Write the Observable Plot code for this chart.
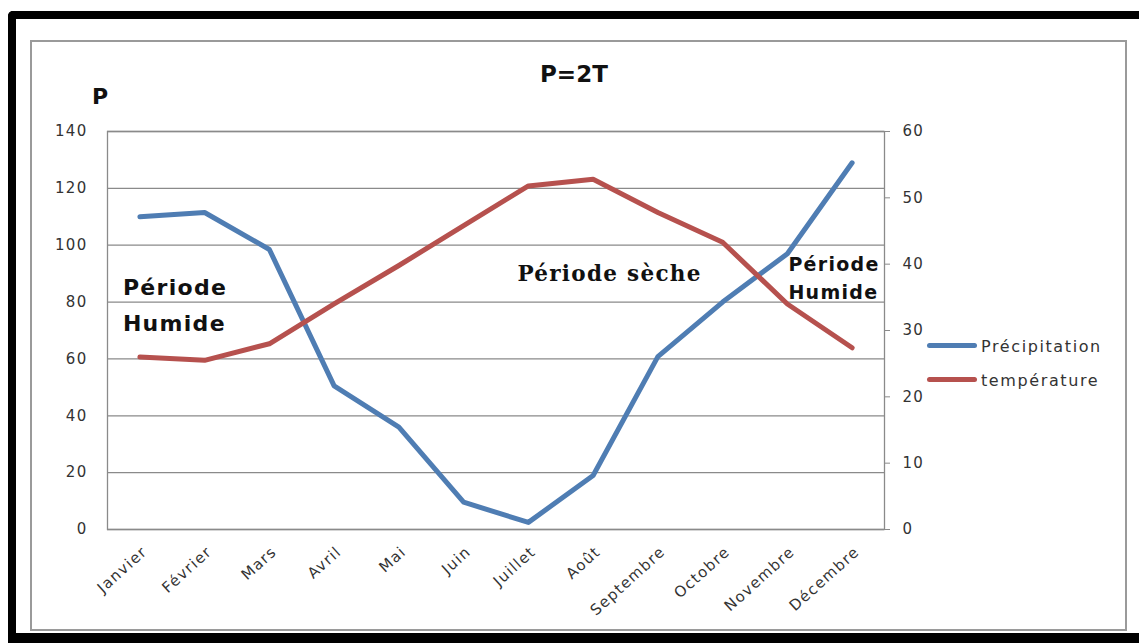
<!DOCTYPE html>
<html><head><meta charset="utf-8">
<script src="https://cdn.jsdelivr.net/npm/d3@7"></script>
<script src="https://cdn.jsdelivr.net/npm/@observablehq/plot@0.6"></script>
<style>
html,body{margin:0;padding:0;background:#fff;}
#wrap{position:relative;width:1139px;height:643px;overflow:hidden;font-family:"DejaVu Sans",sans-serif;background:#fff;}
#chart{position:absolute;left:0;top:0;}
#chart svg text{letter-spacing:1.3px;}
#chart svg g[aria-label="annotation"] text{letter-spacing:1px;}
#chart svg g[aria-label="annotation-serif"] text{letter-spacing:0px;}
.outer{position:absolute;left:8px;top:11px;width:1200px;height:632px;box-sizing:border-box;border-top:8px solid #000;border-left:8px solid #000;border-bottom:10px solid #000;border-radius:5px 0 0 0;pointer-events:none;}
.inner{position:absolute;left:30px;top:40px;width:1097px;height:591px;box-sizing:border-box;border:2px solid #9a9a9a;pointer-events:none;}
.lbl{position:absolute;font-weight:bold;color:#111;line-height:1;white-space:nowrap;}
.sw{position:absolute;height:5px;border-radius:3px;}
.legtxt{position:absolute;font-size:16px;line-height:1;letter-spacing:1.6px;color:#333;white-space:nowrap;}
</style></head><body>
<div id="wrap">
  <div id="chart"></div>
  <div class="outer"></div>
  <div class="inner"></div>
  <div class="lbl" id="title" style="left:540px;top:63px;font-size:23px;">P=2T</div>
  <div class="lbl" id="plabel" style="left:92px;top:86px;font-size:22px;">P</div>
  <div id="legend"></div>
</div>
<script>
// ---- data ----
const months = ["Janvier","Février","Mars","Avril","Mai","Juin","Juillet","Août","Septembre","Octobre","Novembre","Décembre"];
const precipitation = [110, 111.5, 98.5, 50.5, 36, 9.6, 2.5, 19, 60.8, 80, 97, 129];
const temperature = [26, 25.5, 28, 34, 39.8, 45.8, 51.8, 52.8, 47.8, 43.3, 34, 27.4];
const leftTicks = [0, 20, 40, 60, 80, 100, 120, 140];
const rightTicks = [0, 10, 20, 30, 40, 50, 60];
const seriesNames = ["Précipitation", "température"];
const seriesColors = ["#4f7db3", "#b6514e"];
const annLabels = ["Période\nHumide", "Période sèche", "Période\nHumide"];
const annMonths = ["Janvier", "Juillet", "Novembre"];
const annValues = [91.6, 92.8, 98.1];

// ---- build ----
const K = 140 / 60; // right axis (T) 0..60 maps onto left axis (P) 0..140
const rows = months.map((m, i) => ({month: m, p: precipitation[i], t: temperature[i] * K}));
const ann = annLabels.map((l, i) => ({label: l, month: annMonths[i], v: annValues[i]}));

const chart = Plot.plot({
  width: 1139, height: 643,
  marginLeft: 107, marginRight: 255, marginTop: 131, marginBottom: 114,
  style: {background: "transparent", fontFamily: "DejaVu Sans", fontSize: "15px", color: "#333", overflow: "visible"},
  x: {type: "point", domain: months, padding: 0.5, round: false},
  y: {domain: [0, 140]},
  marks: [
    Plot.gridY(leftTicks, {stroke: "#8a8a8a", strokeOpacity: 1, strokeWidth: 1.3}),
    Plot.frame({stroke: "#8a8a8a", strokeWidth: 1.3}),
    Plot.axisY(leftTicks, {anchor: "left", tickSize: 0, tickPadding: 20, label: null}),
    Plot.axisY(rightTicks.map(t => t * K), {anchor: "right", tickSize: 5, tickPadding: 13, stroke: "#8a8a8a", tickFormat: d => Math.round(d / K), label: null}),
    Plot.axisX({tickSize: 0, tickRotate: -42, tickPadding: 6, dx: 5, dy: 14, label: null}),
    Plot.line(rows, {x: "month", y: "p", stroke: seriesColors[0], strokeWidth: 5}),
    Plot.line(rows, {x: "month", y: "t", stroke: seriesColors[1], strokeWidth: 5}),
    Plot.text([ann[0]], {x: "month", y: "v", text: "label", dx: -17, textAnchor: "start", lineAnchor: "top", lineHeight: 1.64, fontSize: 22, fontWeight: "bold", fontFamily: "DejaVu Sans", fill: "#111", ariaLabel: "annotation"}),
    Plot.text([ann[1]], {x: "month", y: "v", text: "label", dx: -11, textAnchor: "start", lineAnchor: "top", fontSize: 21.5, fontWeight: "bold", fontFamily: "DejaVu Serif", fill: "#111", ariaLabel: "annotation-serif"}),
    Plot.text([ann[2]], {x: "month", y: "v", text: "label", dx: 1, textAnchor: "start", lineAnchor: "top", lineHeight: 1.5, fontSize: 19, fontWeight: "bold", fontFamily: "DejaVu Sans", fill: "#111", ariaLabel: "annotation"})
  ]
});
document.getElementById("chart").appendChild(chart);

// legend
const leg = document.getElementById("legend");
seriesNames.forEach((name, i) => {
  const sw = document.createElement("div");
  sw.className = "sw";
  sw.style.left = "927px"; sw.style.width = "50px";
  sw.style.top = (342.5 + i * 34.3) + "px";
  sw.style.background = seriesColors[i];
  leg.appendChild(sw);
  const t = document.createElement("div");
  t.className = "legtxt";
  t.style.left = "981px";
  t.style.top = (338.5 + i * 34) + "px";
  t.textContent = name;
  leg.appendChild(t);
});
</script>
</body></html>
